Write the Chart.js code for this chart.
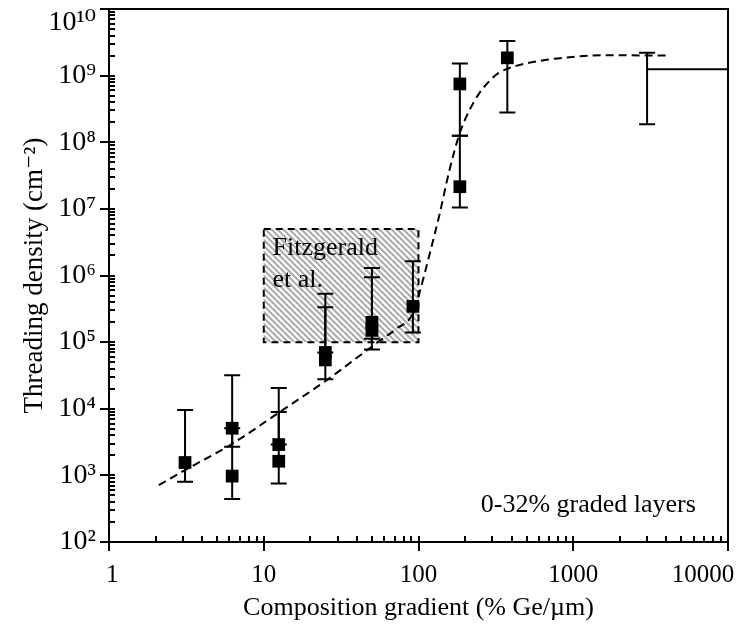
<!DOCTYPE html>
<html>
<head>
<meta charset="utf-8">
<script src="https://cdn.jsdelivr.net/npm/chart.js@4.4.1/dist/chart.umd.min.js"></script>
<style>
html,body{margin:0;padding:0;background:#fff;}
#wrap{width:737px;height:627px;position:relative;}
</style>
</head>
<body>
<div id="wrap"><canvas id="c" width="737" height="627"></canvas></div>
<script>
// ---------- data ----------
// dashed guide curve
const curveX = [2.1, 3.1, 6.3, 12.7, 25.4, 53, 72, 92, 101, 118, 137, 158, 184, 213, 248, 290, 330, 427, 604, 990, 1630, 4200];
const curveY = [715, 1200, 3010, 8960, 26700, 94900, 159000, 269000, 530000, 2.1e6, 8.4e6, 3.7e7, 1.33e8, 3.0e8, 5.5e8, 8.5e8, 1.1e9, 1.4e9, 1.66e9, 1.91e9, 2.02e9, 2.0e9];

// measured points (filled squares)
const pointX = [3.1, 6.25, 6.25, 12.5, 12.5, 25, 25, 50, 50, 92, 185, 185, 375];
const pointY = [1560, 5100, 975, 2900, 1630, 70000, 54000, 198000, 150000, 344000, 7.5e8, 2.15e7, 1.85e9];

// error bars (x, low, high)
const errX    = [3.1, 6.25, 6.25, 12.5, 12.5, 25, 25, 50, 50, 92, 185, 185, 375, 3000];
const errLow  = [800, 2700, 441, 2900, 757, 70000, 27700, 112000, 77600, 139000, 1.25e8, 1.05e7, 2.8e8, 1.87e8];
const errHigh = [9600, 31800, 5100, 20500, 8950, 532000, 335000, 1.3e6, 944000, 1.64e6, 1.52e9, 1.25e8, 3.32e9, 2.21e9];

// horizontal segment at large gradient
const segX = [3000, 10000];
const segY = [1.25e9, 1.25e9];

// Fitzgerald et al. region
const boxX = [10, 100];
const boxY = [1e5, 5e6];
const boxLabel = ['Fitzgerald', 'et al.'];
const boxLabelX = [11.4, 11.4];
const boxLabelY = [2.0e6, 6.8e5];

const noteText = '0-32% graded layers';
const noteX = 6200;
const noteY = 280;

// axes
const xMajor = [1, 10, 100, 1000, 10000];
const xLabels = ['\u00a01', '10', '100', '1000', '10000\u00a0\u00a0\u00a0\u00a0\u00a0\u00a0\u00a0\u00a0'];
const yMajor = [1e2, 1e3, 1e4, 1e5, 1e6, 1e7, 1e8, 1e9, 1e10];
const yLabels = ['10\u00b2', '10\u00b3', '10\u2074', '10\u2075', '10\u2076', '10\u2077', '10\u2078', '10\u2079', ['', '10\u00b9\u2070']];
const mantissas = [2, 3, 4, 5, 6, 7, 8, 9];
const xTitle = 'Composition gradient (% Ge/\u00b5m)';
const yTitle = 'Threading density (cm\u207b\u00b2)';

// ---------- helpers ----------
const FONT = "'Liberation Serif', 'Times New Roman', 'DejaVu Serif', serif";
function withMinors(majors) {
  const out = [];
  majors.forEach((m, i) => {
    out.push({value: m, major: true});
    if (i < majors.length - 1) mantissas.forEach(k => out.push({value: m * k, major: false}));
  });
  return out;
}

const hatchTile = (() => {
  const c = document.createElement('canvas');
  c.width = 6; c.height = 6;
  const g = c.getContext('2d');
  g.fillStyle = '#ffffff'; g.fillRect(0, 0, 6, 6);
  g.strokeStyle = '#ababab'; g.lineWidth = 2;
  g.beginPath();
  g.moveTo(-2, -2); g.lineTo(8, 8);
  g.moveTo(-2, 4); g.lineTo(2, 8);
  g.moveTo(4, -2); g.lineTo(8, 2);
  g.stroke();
  return c;
})();

const deco = {
  id: 'deco',
  beforeDatasetsDraw(chart) {
    const {ctx} = chart;
    const x = chart.scales.x, y = chart.scales.y;
    ctx.save();
    // hatched region
    const l = x.getPixelForValue(boxX[0]), r = x.getPixelForValue(boxX[1]);
    const t = y.getPixelForValue(boxY[1]), b = y.getPixelForValue(boxY[0]);
    ctx.fillStyle = ctx.createPattern(hatchTile, 'repeat');
    ctx.fillRect(l, t, r - l, b - t);
    ctx.setLineDash([7, 5]);
    ctx.lineWidth = 2;
    ctx.strokeStyle = '#000';
    ctx.strokeRect(l, t, r - l, b - t);
    ctx.setLineDash([]);
    ctx.fillStyle = '#000';
    ctx.font = '26px ' + FONT;
    ctx.textAlign = 'left';
    ctx.textBaseline = 'alphabetic';
    boxLabel.forEach((s, i) => ctx.fillText(s, x.getPixelForValue(boxLabelX[i]), y.getPixelForValue(boxLabelY[i])));
    // error bars
    ctx.lineWidth = 2;
    const cap = 8;
    errX.forEach((v, i) => {
      const px = x.getPixelForValue(v);
      const lo = y.getPixelForValue(errLow[i]);
      const hi = y.getPixelForValue(errHigh[i]);
      ctx.beginPath();
      ctx.moveTo(px, lo); ctx.lineTo(px, hi);
      ctx.moveTo(px - cap, lo); ctx.lineTo(px + cap, lo);
      ctx.moveTo(px - cap, hi); ctx.lineTo(px + cap, hi);
      ctx.stroke();
    });
    ctx.restore();
  },
  afterDraw(chart) {
    const {ctx, chartArea: a} = chart;
    const x = chart.scales.x, y = chart.scales.y;
    ctx.save();
    ctx.strokeStyle = '#000';
    ctx.lineWidth = 2;
    ctx.strokeRect(a.left, a.top, a.right - a.left, a.bottom - a.top);
    ctx.beginPath();
    y.ticks.forEach(tk => {
      const py = Math.round(y.getPixelForValue(tk.value));
      if (tk.major) { ctx.moveTo(a.left - 9, py); ctx.lineTo(a.left + 6, py); }
      else { ctx.moveTo(a.left, py); ctx.lineTo(a.left + 6, py); }
    });
    x.ticks.forEach(tk => {
      const px = Math.round(x.getPixelForValue(tk.value));
      if (tk.major) { ctx.moveTo(px, a.bottom - 6); ctx.lineTo(px, a.bottom + 9); }
      else { ctx.moveTo(px, a.bottom - 6); ctx.lineTo(px, a.bottom); }
    });
    ctx.stroke();
    ctx.fillStyle = '#000';
    ctx.font = '26px ' + FONT;
    ctx.textAlign = 'right';
    ctx.textBaseline = 'alphabetic';
    ctx.fillText(noteText, x.getPixelForValue(noteX), y.getPixelForValue(noteY));
    ctx.restore();
  }
};

new Chart(document.getElementById('c'), {
  type: 'scatter',
  data: {
    datasets: [
      {
        type: 'line',
        data: curveX.map((v, i) => ({x: v, y: curveY[i]})),
        borderColor: '#000', borderWidth: 2, borderDash: [8, 5],
        pointRadius: 0, cubicInterpolationMode: 'monotone', fill: false
      },
      {
        type: 'line',
        data: segX.map((v, i) => ({x: v, y: segY[i]})),
        borderColor: '#000', borderWidth: 2, pointRadius: 0, fill: false
      },
      {
        type: 'scatter',
        data: pointX.map((v, i) => ({x: v, y: pointY[i]})),
        pointStyle: 'rect', pointRadius: 9, backgroundColor: '#000',
        borderColor: '#000', borderWidth: 0
      }
    ]
  },
  options: {
    responsive: false,
    animation: false,
    devicePixelRatio: 1,
    layout: {padding: {top: 8, right: 8, left: 0, bottom: 0}},
    plugins: {legend: {display: false}, tooltip: {enabled: false}},
    scales: {
      x: {
        type: 'logarithmic', min: 1, max: 10000,
        afterBuildTicks: s => { s.ticks = withMinors(xMajor); },
        afterFit: s => { s.height = 85; s.paddingLeft = 0; s.paddingRight = 0; },
        grid: {display: false}, border: {display: false},
        ticks: {
          autoSkip: false, maxRotation: 0, minRotation: 0, padding: 10,
          color: '#000', font: {family: FONT, size: 25},
          callback: v => { const i = xMajor.indexOf(v); return i >= 0 ? xLabels[i] : ''; }
        },
        title: {display: true, text: xTitle, color: '#000', font: {family: FONT, size: 26}, padding: {top: 0, bottom: 3}}
      },
      y: {
        type: 'logarithmic', min: 1e2, max: 1e10,
        afterBuildTicks: s => { s.ticks = withMinors(yMajor); },
        afterFit: s => { s.width = 109; s.paddingTop = 0; s.paddingBottom = 0; },
        grid: {display: false}, border: {display: false},
        ticks: {
          autoSkip: false, padding: 5,
          color: '#000', font: {family: FONT, size: 28, lineHeight: 1.0},
          callback: v => { const i = yMajor.indexOf(v); return i >= 0 ? yLabels[i] : ''; }
        },
        title: {display: true, text: yTitle, color: '#000', font: {family: FONT, size: 27}, padding: {top: 19, bottom: 0}}
      }
    }
  },
  plugins: [deco]
});
</script>
</body>
</html>
